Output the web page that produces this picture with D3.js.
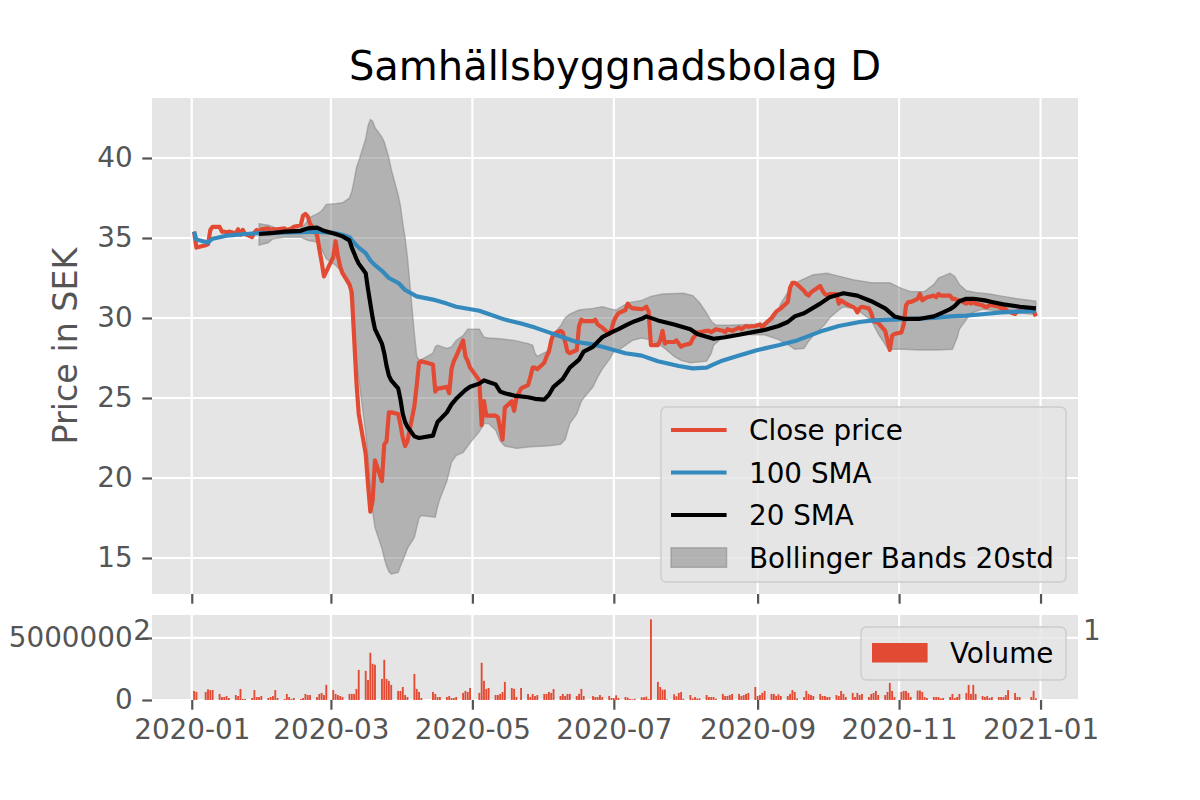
<!DOCTYPE html>
<html>
<head>
<meta charset="utf-8">
<script src="https://cdn.jsdelivr.net/npm/d3@7"></script>
<style>
  body { margin: 0; background: #ffffff; }
  svg { display: block; }
  text { font-family: "DejaVu Sans", sans-serif; }
</style>
</head>
<body>
<svg id="chart" width="1200" height="800"></svg>
<script>
// ---------------- DATA ----------------
const chartTitle = "Samhällsbyggnadsbolag D";
const yLabel = "Price in SEK";
const firstDay = "2020-01-02";
const lastDay = "2020-12-30";
const holidays = ["2020-01-06","2020-04-10","2020-04-13","2020-05-01","2020-05-21","2020-06-19","2020-12-24","2020-12-25"];

// Close price, one value per trading day (Jan..Dec 2020)
const closePrice = [
  35.4,34.4,34.55,34.6,35.5,35.7,35.7,35.4,35.4,35.35,35.4,35.3,35.55,35.2,35.5,35.25,35.05,35.35,35.5,35.4,35.55,
  35.6,35.5,35.55,35.5,35.55,35.6,35.5,35.55,35.6,35.7,35.8,36.4,36.5,36.35,35.9,35.2,34.3,33.5,32.6,32.9,
  33.8,34.8,33.9,33.2,32.8,32.1,31.6,28.8,26.0,24.0,21.5,19.6,17.9,18.6,21.1,19.8,22.1,22.3,24.1,24.1,24.0,23.3,
  22.5,22.0,22.3,24.5,25.8,27.2,27.3,27.1,25.4,25.6,25.6,25.7,25.3,26.8,27.3,27.6,28.6,27.6,27.3,26.9,
  26.1,23.3,24.8,23.9,23.9,23.9,23.8,23.1,22.4,24.4,24.8,24.2,25.0,25.6,25.8,26.3,26.9,26.9,26.8,
  27.2,27.6,27.9,28.6,29.0,29.2,29.1,28.5,27.9,27.8,28.0,29.5,29.9,29.8,29.8,29.9,29.6,29.5,29.4,29.0,29.3,
  29.8,30.1,30.3,30.5,30.9,30.7,30.6,30.6,30.55,30.6,30.7,30.4,28.3,28.3,28.6,29.2,28.4,28.5,28.5,28.6,28.4,28.2,28.3,
  28.4,28.7,28.9,29.1,29.1,29.2,29.2,29.1,29.2,29.3,29.2,29.1,29.3,29.25,29.2,29.4,29.3,29.4,29.5,29.45,29.5,
  29.55,29.6,29.4,29.6,30.0,30.2,30.4,30.5,30.6,31.0,31.9,32.2,32.2,32.1,31.7,31.5,31.4,31.6,31.7,32.0,31.7,31.5,
  31.4,31.5,31.5,30.9,31.1,31.0,30.9,30.7,30.6,30.35,30.6,30.7,30.6,30.3,29.8,29.75,29.7,29.2,28.6,28.0,28.9,29.0,
  29.1,29.6,30.8,31.0,31.0,31.2,31.5,31.1,31.2,31.3,31.4,31.3,31.5,31.4,31.4,31.4,31.2,31.2,31.1,31.1,30.9,
  31.0,30.9,31.0,30.9,30.8,30.7,30.7,30.8,30.8,30.7,30.6,30.6,30.55,30.4,30.25,30.4,30.45,30.5,30.45,30.1
];

// Volume in millions of shares, one value per trading day
const volumeMillions = [
  0.73,0.65,0.65,0.86,0.8,0.8,0.49,0.24,0.24,0.32,0.16,0.4,0.32,0.89,0.08,0.08,0.16,0.8,0.24,0.24,0.32,
  0.16,0.24,0.32,0.8,0.16,0.08,0.49,0.24,0.08,0.16,0.08,0.16,0.49,0.4,0.4,0.24,0.49,0.57,0.4,1.22,
  0.8,0.49,0.4,0.32,0.24,0.49,0.49,0.49,0.89,2.43,2.35,1.62,3.81,2.92,2.84,1.7,3.24,1.7,1.54,1.22,0.73,0.73,
  1.05,0.4,0.24,2.1,0.89,0.65,0.16,0.65,0.49,0.24,0.24,0.24,0.32,0.16,0.16,0.24,0.57,0.73,0.65,0.97,
  0.57,3.0,1.54,0.89,0.97,0.4,0.4,0.49,0.65,1.46,0.97,0.89,0.24,0.97,0.49,0.24,0.49,0.32,0.4,
  0.49,0.49,0.65,0.57,0.89,0.32,0.49,0.32,0.49,0.49,0.32,0.49,0.89,0.32,0.32,0.24,0.24,0.4,0.24,0.32,0.16,
  0.16,0.38,0.16,0.24,0.19,0.08,0.05,0.1,0.22,0.22,0.27,0.08,6.5,1.46,1.05,0.84,0.84,0.05,0.46,0.3,0.57,0.65,0.1,
  0.4,0.13,0.24,0.13,0.13,0.4,0.24,0.24,0.24,0.1,0.49,0.32,0.32,0.4,0.49,0.49,0.32,0.4,0.49,0.57,1.05,
  0.32,0.4,0.57,0.73,0.49,0.49,0.32,0.46,0.32,0.32,0.49,0.8,0.65,0.13,0.24,0.73,0.49,0.4,0.32,0.49,0.32,0.32,
  0.24,0.24,0.4,0.32,0.73,0.49,0.24,0.57,0.24,0.57,0.4,0.49,0.24,0.49,0.57,0.73,0.4,0.4,0.65,1.38,0.73,0.24,
  0.65,0.73,0.73,0.57,0.24,0.76,0.76,0.65,0.24,0.16,0.24,0.24,0.24,0.13,0.16,0.24,0.49,0.16,0.24,0.49,0.57,
  1.22,0.49,1.22,0.49,0.32,0.24,0.32,0.16,0.24,0.24,0.24,0.24,0.4,0.8,0.57,0.24,0.24,0.24,0.73,0.13
];

// 100-day SMA (read at selected dates)
const sma100 = [
  ["2020-01-02",35.4],["2020-01-03",34.9],["2020-01-07",34.75],["2020-01-08",34.7],["2020-01-09",34.85],["2020-01-10",34.95],
  ["2020-01-13",35.05],["2020-01-16",35.15],["2020-01-20",35.2],["2020-01-24",35.25],["2020-01-30",35.3],["2020-02-14",35.35],
  ["2020-02-24",35.4],["2020-03-03",35.3],["2020-03-06",35.2],["2020-03-09",35.05],["2020-03-11",34.7],["2020-03-13",34.4],
  ["2020-03-16",34.05],["2020-03-18",33.6],["2020-03-20",33.3],["2020-03-23",32.95],["2020-03-26",32.5],["2020-03-30",32.2],
  ["2020-04-02",31.75],["2020-04-07",31.35],["2020-04-14",31.15],["2020-04-20",30.9],["2020-04-24",30.7],["2020-05-04",30.45],
  ["2020-05-08",30.25],["2020-05-15",29.9],["2020-05-22",29.65],["2020-05-28",29.4],["2020-06-03",29.1],["2020-06-09",28.8],
  ["2020-06-15",28.5],["2020-06-22",28.35],["2020-06-26",28.2],["2020-07-01",28.0],["2020-07-06",27.8],["2020-07-13",27.65],
  ["2020-07-20",27.3],["2020-07-29",27.0],["2020-08-04",26.85],["2020-08-10",26.9],["2020-08-13",27.1],["2020-08-17",27.35],
  ["2020-08-24",27.65],["2020-09-01",28.0],["2020-09-10",28.3],["2020-09-18",28.6],["2020-09-28",29.15],["2020-10-06",29.5],
  ["2020-10-15",29.75],["2020-10-21",29.85],["2020-10-29",29.9],["2020-11-06",29.95],["2020-11-16",30.0],["2020-11-23",30.1],
  ["2020-11-30",30.15],["2020-12-08",30.25],["2020-12-15",30.35],["2020-12-22",30.4],["2020-12-30",30.45]
];

// 20-day SMA
const sma20 = [
  ["2020-01-30",35.25],["2020-02-04",35.3],["2020-02-10",35.4],["2020-02-17",35.45],["2020-02-20",35.6],["2020-02-24",35.65],
  ["2020-02-27",35.45],["2020-03-03",35.25],["2020-03-06",35.1],["2020-03-09",34.85],["2020-03-10",34.4],["2020-03-12",33.7],
  ["2020-03-13",33.4],["2020-03-16",32.8],["2020-03-17",31.8],["2020-03-18",30.9],["2020-03-19",30.0],["2020-03-20",29.3],
  ["2020-03-23",28.4],["2020-03-24",27.8],["2020-03-25",27.0],["2020-03-26",26.4],["2020-03-27",26.1],["2020-03-30",25.6],
  ["2020-03-31",24.9],["2020-04-01",24.0],["2020-04-02",23.5],["2020-04-03",23.2],["2020-04-06",22.6],["2020-04-08",22.5],
  ["2020-04-14",22.65],["2020-04-15",23.1],["2020-04-16",23.5],["2020-04-20",24.1],["2020-04-22",24.6],["2020-04-24",24.95],
  ["2020-04-28",25.5],["2020-04-30",25.7],["2020-05-04",25.9],["2020-05-06",26.1],["2020-05-08",26.0],["2020-05-11",25.85],
  ["2020-05-13",25.4],["2020-05-15",25.3],["2020-05-19",25.15],["2020-05-25",25.05],["2020-05-28",24.95],["2020-06-01",24.9],
  ["2020-06-03",25.2],["2020-06-05",25.7],["2020-06-09",26.2],["2020-06-12",26.9],["2020-06-16",27.4],["2020-06-18",27.9],
  ["2020-06-22",28.2],["2020-06-24",28.5],["2020-06-26",28.8],["2020-06-30",29.1],["2020-07-03",29.3],["2020-07-07",29.6],
  ["2020-07-10",29.8],["2020-07-13",29.95],["2020-07-15",30.1],["2020-07-20",29.85],["2020-07-27",29.6],["2020-08-03",29.3],
  ["2020-08-06",29.0],["2020-08-13",28.7],["2020-08-18",28.8],["2020-08-24",28.95],["2020-08-31",29.15],["2020-09-04",29.25],
  ["2020-09-10",29.5],["2020-09-14",29.75],["2020-09-17",30.1],["2020-09-21",30.3],["2020-09-28",30.9],["2020-10-02",31.3],
  ["2020-10-08",31.55],["2020-10-14",31.4],["2020-10-20",31.05],["2020-10-26",30.6],["2020-10-30",30.1],["2020-11-03",29.95],
  ["2020-11-10",29.95],["2020-11-16",30.1],["2020-11-20",30.35],["2020-11-23",30.55],["2020-11-25",30.75],["2020-11-27",31.05],
  ["2020-11-30",31.2],["2020-12-03",31.2],["2020-12-08",31.1],["2020-12-11",31.0],["2020-12-16",30.85],["2020-12-21",30.75],
  ["2020-12-23",30.7],["2020-12-30",30.6]
];

// Bollinger upper band
const bandUpper = [
  ["2020-01-30",35.9],["2020-02-03",35.8],["2020-02-06",35.65],["2020-02-10",35.6],["2020-02-14",35.55],["2020-02-17",35.6],
  ["2020-02-19",35.9],["2020-02-21",36.3],["2020-02-24",36.5],["2020-02-26",36.7],["2020-02-28",37.1],["2020-03-03",37.15],
  ["2020-03-06",37.2],["2020-03-09",37.5],["2020-03-10",37.9],["2020-03-11",38.6],["2020-03-12",39.4],["2020-03-13",39.8],
  ["2020-03-16",41.2],["2020-03-17",42.0],["2020-03-18",42.4],["2020-03-19",42.3],["2020-03-20",41.9],["2020-03-23",41.3],
  ["2020-03-24",41.0],["2020-03-25",40.5],["2020-03-26",40.0],["2020-03-27",39.3],["2020-03-30",37.7],["2020-03-31",37.0],
  ["2020-04-01",35.9],["2020-04-02",35.0],["2020-04-03",33.8],["2020-04-06",29.0],["2020-04-07",27.6],["2020-04-08",27.4],
  ["2020-04-09",27.4],["2020-04-14",27.8],["2020-04-15",28.2],["2020-04-16",28.3],["2020-04-20",28.1],["2020-04-22",28.2],
  ["2020-04-24",28.6],["2020-04-27",28.9],["2020-04-29",29.3],["2020-05-04",29.3],["2020-05-06",28.8],["2020-05-08",28.75],
  ["2020-05-13",28.7],["2020-05-19",28.6],["2020-05-25",28.4],["2020-05-27",28.3],["2020-05-28",27.8],["2020-05-29",27.6],
  ["2020-06-02",27.9],["2020-06-04",28.2],["2020-06-05",29.0],["2020-06-08",29.5],["2020-06-10",30.0],["2020-06-12",30.25],
  ["2020-06-16",30.5],["2020-06-22",30.6],["2020-06-26",30.7],["2020-06-30",30.55],["2020-07-02",30.5],["2020-07-07",30.95],
  ["2020-07-13",31.1],["2020-07-17",31.35],["2020-07-22",31.5],["2020-07-31",31.55],["2020-08-04",31.4],["2020-08-07",30.95],
  ["2020-08-10",30.3],["2020-08-12",29.8],["2020-08-14",29.55],["2020-08-20",29.55],["2020-08-28",29.6],["2020-09-02",29.6],
  ["2020-09-07",29.8],["2020-09-09",30.2],["2020-09-11",30.9],["2020-09-14",31.6],["2020-09-16",32.1],["2020-09-21",32.45],
  ["2020-09-25",32.7],["2020-10-01",32.8],["2020-10-05",32.65],["2020-10-12",32.4],["2020-10-20",32.2],["2020-10-28",32.2],
  ["2020-11-02",31.85],["2020-11-06",31.65],["2020-11-12",31.65],["2020-11-16",32.1],["2020-11-18",32.5],["2020-11-23",32.8],
  ["2020-11-25",32.6],["2020-11-27",32.1],["2020-11-30",31.7],["2020-12-04",31.6],["2020-12-10",31.5],["2020-12-16",31.35],
  ["2020-12-22",31.2],["2020-12-30",31.05]
];

// Bollinger lower band
const bandLower = [
  ["2020-01-30",34.55],["2020-02-03",34.7],["2020-02-05",34.95],["2020-02-10",35.05],["2020-02-17",35.05],["2020-02-20",34.85],
  ["2020-02-24",34.75],["2020-02-26",34.3],["2020-02-28",33.7],["2020-03-03",33.3],["2020-03-05",33.0],["2020-03-09",31.9],
  ["2020-03-10",30.3],["2020-03-11",28.6],["2020-03-12",27.3],["2020-03-13",26.2],["2020-03-16",22.8],["2020-03-17",21.2],
  ["2020-03-18",19.5],["2020-03-19",17.9],["2020-03-20",16.9],["2020-03-23",15.6],["2020-03-24",15.0],["2020-03-25",14.5],
  ["2020-03-26",14.15],["2020-03-27",14.0],["2020-03-30",14.1],["2020-03-31",14.5],["2020-04-02",15.2],["2020-04-03",15.6],
  ["2020-04-06",16.3],["2020-04-08",17.5],["2020-04-09",17.65],["2020-04-15",17.55],["2020-04-16",18.2],["2020-04-17",18.7],
  ["2020-04-20",19.8],["2020-04-22",21.0],["2020-04-24",21.4],["2020-04-27",21.6],["2020-04-30",22.2],["2020-05-04",22.9],
  ["2020-05-06",23.4],["2020-05-08",23.4],["2020-05-11",23.0],["2020-05-13",22.3],["2020-05-15",22.0],["2020-05-20",21.85],
  ["2020-05-26",21.95],["2020-06-02",22.0],["2020-06-08",22.1],["2020-06-10",22.4],["2020-06-12",23.4],["2020-06-15",24.0],
  ["2020-06-17",24.8],["2020-06-18",25.0],["2020-06-22",25.7],["2020-06-24",26.3],["2020-06-26",26.8],["2020-06-29",27.4],
  ["2020-07-01",27.9],["2020-07-03",28.0],["2020-07-07",28.4],["2020-07-09",28.6],["2020-07-13",28.75],["2020-07-16",28.65],
  ["2020-07-20",28.4],["2020-07-23",28.1],["2020-07-27",27.6],["2020-07-30",27.35],["2020-08-03",27.2],["2020-08-10",27.3],
  ["2020-08-12",27.8],["2020-08-13",28.3],["2020-08-17",28.8],["2020-08-19",28.95],["2020-08-24",29.0],["2020-08-31",28.95],
  ["2020-09-04",28.95],["2020-09-10",28.65],["2020-09-14",28.35],["2020-09-17",28.05],["2020-09-21",28.1],["2020-09-23",28.55],
  ["2020-09-25",28.9],["2020-09-30",29.6],["2020-10-02",30.0],["2020-10-06",30.5],["2020-10-08",30.7],["2020-10-12",30.6],
  ["2020-10-14",30.5],["2020-10-16",30.3],["2020-10-20",29.85],["2020-10-22",29.3],["2020-10-23",29.0],["2020-10-26",28.35],
  ["2020-10-27",28.1],["2020-10-29",28.05],["2020-11-03",28.05],["2020-11-10",28.0],["2020-11-17",28.0],["2020-11-24",28.05],
  ["2020-11-25",28.4],["2020-11-26",28.75],["2020-11-27",29.3],["2020-11-30",29.9],["2020-12-02",30.3],["2020-12-07",30.55],
  ["2020-12-14",30.45],["2020-12-21",30.35],["2020-12-30",30.2]
];

const priceTicks = [15, 20, 25, 30, 35, 40];
const volumeTicks = [0, 5000000];
const xTickLabels = ["2020-01","2020-03","2020-05","2020-07","2020-09","2020-11","2021-01"];
const legendLabels = ["Close price", "100 SMA", "20 SMA", "Bollinger Bands 20std"];
const volumeLegendLabel = "Volume";

// ---------------- RENDER ----------------
const C = { red: "#E24A33", blue: "#348ABD", black: "#000000", grey: "#808080", bg: "#E5E5E5", tick: "#555555" };
const FS = 27.8;
const parse = d3.utcParse("%Y-%m-%d");
const fmt = d3.utcFormat("%Y-%m-%d");

// trading calendar
const dates = [];
for (let t = +parse(firstDay); t <= +parse(lastDay); t += 864e5) {
  const d = new Date(t), wd = d.getUTCDay();
  if (wd === 0 || wd === 6) continue;
  if (holidays.includes(fmt(d))) continue;
  dates.push(d);
}
const n = Math.min(dates.length, closePrice.length, volumeMillions.length);
const daily = d3.range(n).map(i => ({ date: dates[i], close: closePrice[i], vol: volumeMillions[i] * 1e6 }));

const A = { left: 152, right: 1078, top: 98, bottom: 594 };
const V = { top: 615, bottom: 700 };

const span = dates[n - 1] - dates[0];
const x = d3.scaleUtc()
  .domain([new Date(+dates[0] - span * 0.05), new Date(+dates[n - 1] + span * 0.05)])
  .range([A.left, A.right]);
const y = d3.scaleLinear().domain([12.75, 43.75]).range([A.bottom, A.top]);
const yv = d3.scaleLinear().domain([0, 6.85e6]).range([V.bottom, V.top]);

const svg = d3.select("#chart");
svg.append("rect").attr("width", 1200).attr("height", 800).attr("fill", "#ffffff");

const defs = svg.append("defs");
defs.append("clipPath").attr("id", "clipMain").append("rect")
  .attr("x", A.left).attr("y", A.top).attr("width", A.right - A.left).attr("height", A.bottom - A.top);
defs.append("clipPath").attr("id", "clipVol").append("rect")
  .attr("x", A.left).attr("y", V.top).attr("width", A.right - A.left).attr("height", V.bottom - V.top);

// backgrounds
svg.append("rect").attr("x", A.left).attr("y", A.top).attr("width", A.right - A.left).attr("height", A.bottom - A.top).attr("fill", C.bg);
svg.append("rect").attr("x", A.left).attr("y", V.top).attr("width", A.right - A.left).attr("height", V.bottom - V.top).attr("fill", C.bg);

const xTickDates = xTickLabels.map(s => d3.utcParse("%Y-%m")(s));

// grids
const grid = svg.append("g").attr("stroke", "#ffffff").attr("stroke-width", 2.2);
grid.selectAll(".gx1").data(xTickDates).join("line")
  .attr("x1", d => x(d)).attr("x2", d => x(d)).attr("y1", A.top).attr("y2", A.bottom);
grid.selectAll(".gy1").data(priceTicks).join("line").attr("class", "gy1")
  .attr("x1", A.left).attr("x2", A.right).attr("y1", d => y(d)).attr("y2", d => y(d));
grid.selectAll(".gx2").data(xTickDates).join("line").attr("class", "gx2")
  .attr("x1", d => x(d)).attr("x2", d => x(d)).attr("y1", V.top).attr("y2", V.bottom);
grid.selectAll(".gy2").data(volumeTicks).join("line").attr("class", "gy2")
  .attr("x1", A.left).attr("x2", A.right).attr("y1", d => yv(d)).attr("y2", d => yv(d));

// main plot
const main = svg.append("g").attr("clip-path", "url(#clipMain)");
const toPts = arr => arr.map(([d, v]) => [x(parse(d)), y(v)]);
const up = toPts(bandUpper), lo = toPts(bandLower).reverse();
const lineGen = d3.line();
main.append("path")
  .attr("d", lineGen(up.concat(lo)) + "Z")
  .attr("fill", C.grey).attr("fill-opacity", 0.5)
  .attr("stroke", C.grey).attr("stroke-opacity", 0.5).attr("stroke-width", 1.4);

const lw = 4.17;
main.append("path").datum(daily)
  .attr("d", d3.line().x(d => x(d.date)).y(d => y(d.close)))
  .attr("fill", "none").attr("stroke", C.red).attr("stroke-width", lw).attr("stroke-linejoin", "round");
main.append("path").attr("d", lineGen(toPts(sma100)))
  .attr("fill", "none").attr("stroke", C.blue).attr("stroke-width", lw).attr("stroke-linejoin", "round");
main.append("path").attr("d", lineGen(toPts(sma20)))
  .attr("fill", "none").attr("stroke", C.black).attr("stroke-width", lw).attr("stroke-linejoin", "round");

// volume bars
const barW = (x(new Date(864e5 * 0.8)) - x(new Date(0)));
svg.append("g").attr("clip-path", "url(#clipVol)")
  .selectAll("rect").data(daily).join("rect")
  .attr("x", d => x(d.date) - barW / 2).attr("width", barW)
  .attr("y", d => yv(d.vol)).attr("height", d => yv(0) - yv(d.vol))
  .attr("fill", C.red);

// axes
function styleAxis(g) {
  g.select(".domain").remove();
  g.selectAll(".tick line").attr("stroke", C.tick).attr("stroke-width", 2.2);
  g.selectAll(".tick text").attr("fill", C.tick).attr("font-size", FS).attr("font-family", "DejaVu Sans");
}
svg.append("g").attr("transform", `translate(0,${A.bottom})`)
  .call(d3.axisBottom(x).tickValues(xTickDates).tickFormat("").tickSize(9.7).tickPadding(9.7)).call(styleAxis);
svg.append("g").attr("transform", `translate(0,${V.bottom})`)
  .call(d3.axisBottom(x).tickValues(xTickDates).tickFormat(d3.utcFormat("%Y-%m")).tickSize(9.7).tickPadding(9.7)).call(styleAxis);
svg.append("g").attr("transform", `translate(${A.left},0)`)
  .call(d3.axisLeft(y).tickValues(priceTicks).tickFormat(d3.format("d")).tickSize(9.7).tickPadding(9.7)).call(styleAxis);
svg.append("g").attr("transform", `translate(${A.left},0)`)
  .call(d3.axisLeft(yv).tickValues(volumeTicks).tickFormat(d3.format("d")).tickSize(9.7).tickPadding(9.7)).call(styleAxis);

// stray offset labels
svg.append("text").attr("x", 151).attr("y", 640).attr("text-anchor", "end")
  .attr("font-size", FS).attr("fill", C.tick).text("2");
svg.append("text").attr("x", 1083).attr("y", 640).attr("text-anchor", "start")
  .attr("font-size", FS).attr("fill", C.tick).text("1");

// title & y label
svg.append("text").attr("x", (A.left + A.right) / 2).attr("y", 80).attr("text-anchor", "middle")
  .attr("font-size", 40).attr("fill", "#000").text(chartTitle);
svg.append("text").attr("transform", `translate(77,${(A.top + A.bottom) / 2}) rotate(-90)`)
  .attr("text-anchor", "middle").attr("font-size", 33.3).attr("fill", C.tick).text(yLabel);

// main legend
const lg = svg.append("g");
lg.append("rect").attr("x", 661).attr("y", 407).attr("width", 405).attr("height", 175).attr("rx", 5.5)
  .attr("fill", C.bg).attr("fill-opacity", 0.8).attr("stroke", "#cccccc").attr("stroke-width", 1.4);
const rowsY = [430, 472.5, 515, 557.5];
const lineColors = [C.red, C.blue, C.black];
lineColors.forEach((c, i) => {
  lg.append("line").attr("x1", 671).attr("x2", 726.6).attr("y1", rowsY[i]).attr("y2", rowsY[i])
    .attr("stroke", c).attr("stroke-width", lw);
});
lg.append("rect").attr("x", 671).attr("y", rowsY[3] - 9.7).attr("width", 55.6).attr("height", 19.5)
  .attr("fill", C.grey).attr("fill-opacity", 0.5).attr("stroke", C.grey).attr("stroke-opacity", 0.5).attr("stroke-width", 1.4);
legendLabels.forEach((t, i) => {
  lg.append("text").attr("x", 749).attr("y", rowsY[i]).attr("dy", "0.36em")
    .attr("font-size", FS).attr("fill", "#000").text(t);
});

// volume legend
const vg = svg.append("g");
vg.append("rect").attr("x", 861).attr("y", 627).attr("width", 205).attr("height", 53).attr("rx", 5.5)
  .attr("fill", C.bg).attr("fill-opacity", 0.8).attr("stroke", "#cccccc").attr("stroke-width", 1.4);
vg.append("rect").attr("x", 872).attr("y", 643).attr("width", 55.6).attr("height", 19.5).attr("fill", C.red);
vg.append("text").attr("x", 950).attr("y", 652.5).attr("dy", "0.36em").attr("font-size", FS).attr("fill", "#000").text(volumeLegendLabel);
</script>
</body>
</html>
